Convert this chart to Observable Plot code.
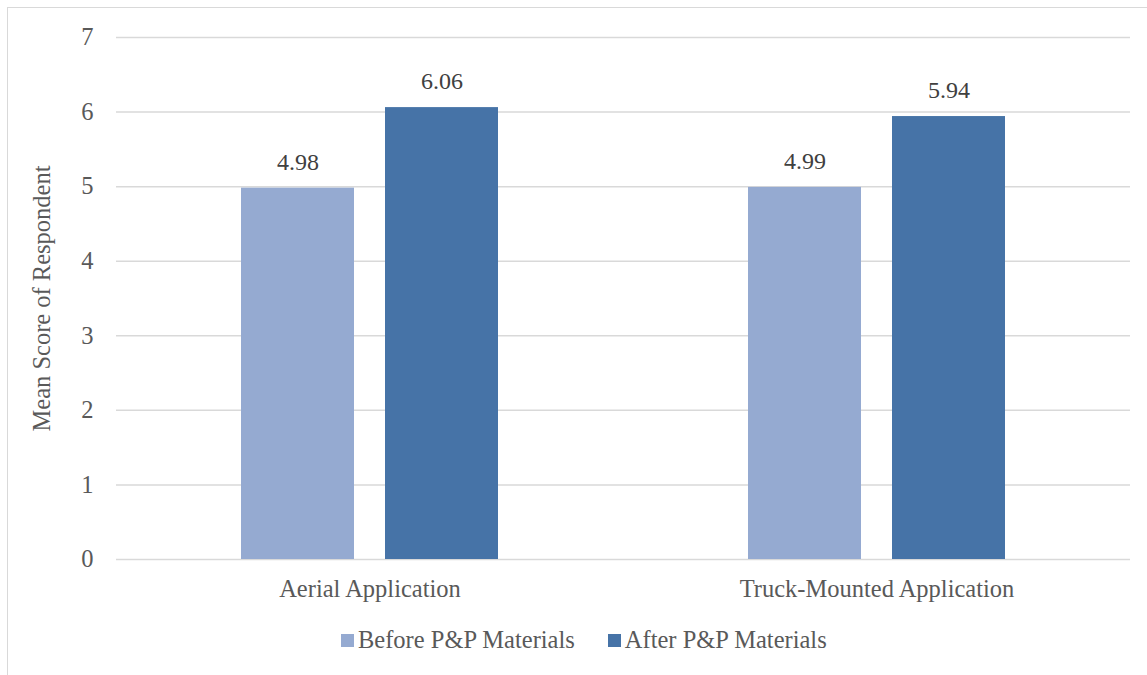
<!DOCTYPE html>
<html>
<head>
<meta charset="utf-8">
<script src="https://cdn.jsdelivr.net/npm/d3@7"></script>
<script src="https://cdn.jsdelivr.net/npm/@observablehq/plot@0.6"></script>
<style>
  html, body { margin: 0; padding: 0; background: #fff; }
  body { width: 1147px; height: 675px; position: relative; overflow: hidden; font-family: "Liberation Serif", serif; }
  #frame { position: absolute; left: 7px; top: 7px; width: 1300px; height: 800px; border: 1.5px solid #d9d9d9; box-sizing: border-box; }
  #chart { position: absolute; left: 0; top: 0; }
  #legend { position: absolute; left: 341px; top: 626px; display: flex; align-items: center; font-size: 24.5px; color: #595959; white-space: nowrap; }
  .item { display: flex; align-items: center; margin-right: 33px; }
  .sw { width: 13px; height: 13px; margin-right: 4px; display: inline-block; }
</style>
</head>
<body>
<div id="frame"></div>
<div id="chart"></div>
<div id="legend"></div>
<script>
const categories = ["Aerial Application", "Truck-Mounted Application"];
const series = ["Before P&P Materials", "After P&P Materials"];
const beforeValues = [4.98, 4.99];
const afterValues = [6.06, 5.94];
const colors = ["#95AAD1", "#4673A7"];
const yTicks = [0, 1, 2, 3, 4, 5, 6, 7];

const data = [];
categories.forEach((c, i) => {
  data.push({category: c, series: series[0], value: beforeValues[i]});
  data.push({category: c, series: series[1], value: afterValues[i]});
});

const chart = Plot.plot({
  width: 1147,
  height: 610,
  marginTop: 37,
  marginBottom: 51,
  marginLeft: 115,
  marginRight: 17,
  style: {fontFamily: "Liberation Serif, serif", fontSize: "24.5px", color: "#595959", background: "transparent"},
  fx: {domain: categories, padding: 0, label: null, axis: "bottom", tickSize: 0, tickPadding: 20},
  x: {domain: series, paddingInner: 0.2138, paddingOuter: 0.857, axis: null},
  y: {domain: [0, 7], ticks: yTicks, tickFormat: "d", label: "Mean Score of Respondent", labelAnchor: "center", labelArrow: "none", labelOffset: 84, tickSize: 0, tickPadding: 23},
  color: {domain: series, range: colors},
  marks: [
    Plot.ruleY(yTicks, {stroke: "#d9d9d9", strokeWidth: 1.5, strokeOpacity: 1, facetAnchor: null}),
    Plot.barY(data, {fx: "category", x: "series", y: "value", fill: "series"}),
    Plot.text(data, {fx: "category", x: "series", y: "value", text: d => d.value.toFixed(2), dy: -26, fill: "#404040", fontSize: 24})
  ]
});
document.getElementById("chart").appendChild(chart);

const legend = document.getElementById("legend");
series.forEach((s, i) => {
  const item = document.createElement("div");
  item.className = "item";
  const sw = document.createElement("span");
  sw.className = "sw";
  sw.style.background = colors[i];
  const t = document.createElement("span");
  t.textContent = s;
  item.appendChild(sw);
  item.appendChild(t);
  legend.appendChild(item);
});
</script>
</body>
</html>
